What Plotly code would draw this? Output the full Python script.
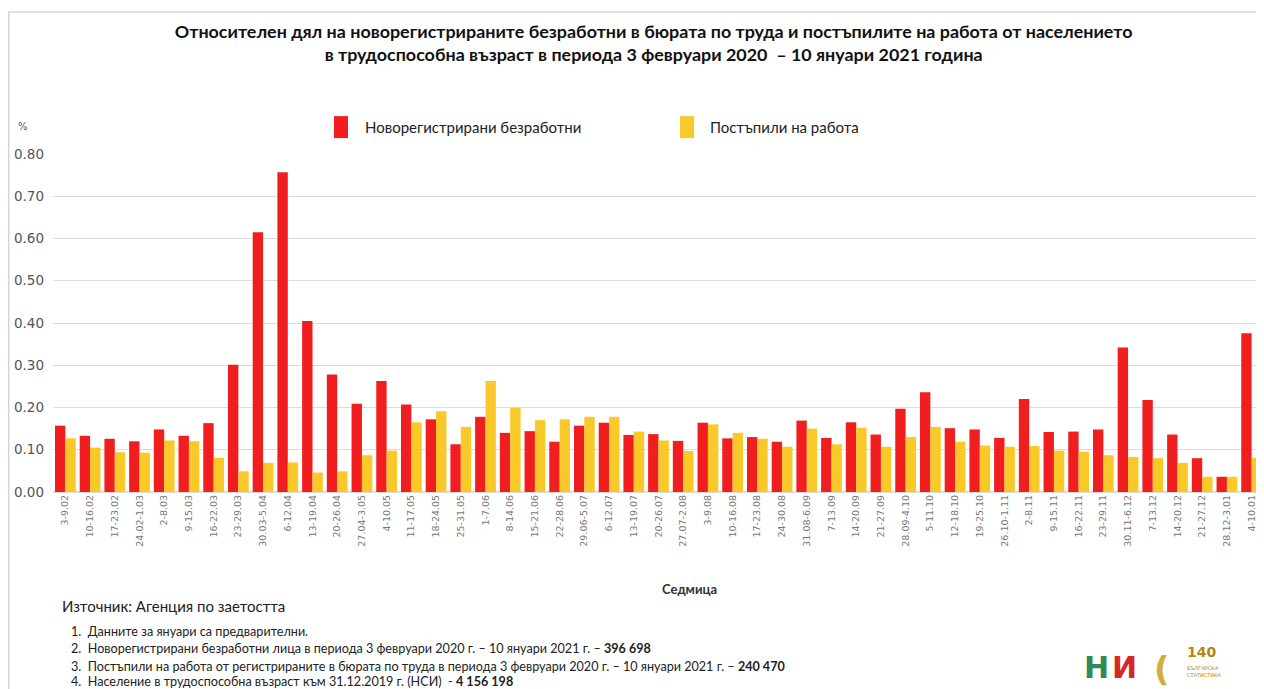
import plotly.graph_objects as go

weeks = ["3-9.02", "10-16.02", "17-23.02", "24.02-1.03", "2-8.03", "9-15.03", "16-22.03",
         "23-29.03", "30.03-5.04", "6-12.04", "13-19.04", "20-26.04", "27.04-3.05", "4-10.05",
         "11-17.05", "18-24.05", "25-31.05", "1-7.06", "8-14.06", "15-21.06", "22-28.06",
         "29.06-5.07", "6-12.07", "13-19.07", "20-26.07", "27.07-2.08", "3-9.08", "10-16.08",
         "17-23.08", "24-30.08", "31.08-6.09", "7-13.09", "14-20.09", "21-27.09", "28.09-4.10",
         "5-11.10", "12-18.10", "19-25.10", "26.10-1.11", "2-8.11", "9-15.11", "16-22.11",
         "23-29.11", "30.11-6.12", "7-13.12", "14-20.12", "21-27.12", "28.12-3.01", "4-10.01"]

new_unemployed = [0.157, 0.133, 0.126, 0.120, 0.148, 0.133, 0.163, 0.301, 0.615, 0.757,
                  0.405, 0.278, 0.209, 0.263, 0.207, 0.172, 0.113, 0.178, 0.140, 0.144,
                  0.119, 0.157, 0.164, 0.135, 0.137, 0.121, 0.164, 0.127, 0.130, 0.119,
                  0.169, 0.128, 0.165, 0.136, 0.197, 0.236, 0.151, 0.148, 0.128, 0.220,
                  0.142, 0.143, 0.148, 0.342, 0.218, 0.136, 0.080, 0.036, 0.376]

started_work = [0.127, 0.105, 0.094, 0.093, 0.122, 0.120, 0.081, 0.049, 0.069, 0.070,
                0.046, 0.049, 0.087, 0.098, 0.165, 0.191, 0.154, 0.263, 0.199, 0.170,
                0.172, 0.178, 0.178, 0.143, 0.122, 0.097, 0.160, 0.140, 0.126, 0.107,
                0.150, 0.113, 0.152, 0.107, 0.130, 0.154, 0.119, 0.110, 0.107, 0.109,
                0.098, 0.095, 0.087, 0.083, 0.080, 0.069, 0.036, 0.036, 0.081]

series_names = ["Новорегистрирани безработни", "Постъпили на работа"]
y_ticks = [0.0, 0.1, 0.2, 0.3, 0.4, 0.5, 0.6, 0.7, 0.8]

RED = "#F01E1E"
YELLOW = "#F9C929"
FONT = "Lato"

fig = go.Figure()
fig.add_trace(go.Bar(x=weeks, y=new_unemployed, name=series_names[0],
                     marker=dict(color=RED, line=dict(width=0))))
fig.add_trace(go.Bar(x=weeks, y=started_work, name=series_names[1],
                     marker=dict(color=YELLOW, line=dict(width=0))))

# The page places the figure at an 8px body margin, so the figure is 8px smaller.
fig.update_layout(
    width=1256, height=681,
    margin=dict(l=45, r=0, t=146, b=197),
    paper_bgcolor="white", plot_bgcolor="white",
    barmode="group", bargap=0.16, bargroupgap=0.0,
    font=dict(family=FONT, color="#222222"),
    title=dict(
        text="<b>Относителен дял на новорегистрираните безработни в бюрата по труда и постъпилите на работа от населението<br>"
             "в трудоспособна възраст в периода 3 февруари 2020  – 10 януари 2021 година</b>",
        x=0.496, xref="paper", xanchor="center", y=0.956, yanchor="top",
        font=dict(family=FONT, size=17.9, color="#111111")),
    showlegend=False,
)

fig.update_xaxes(tickangle=-90, tickfont=dict(family="DejaVu Sans", size=9.5, color="#777777"),
                 showgrid=False, showline=False, ticks="", automargin=False)
fig.update_yaxes(range=[0, 0.8], tickvals=y_ticks, tickformat=".2f",
                 tickfont=dict(family="DejaVu Sans", size=13.5, color="#555555"),
                 showgrid=True, gridcolor="#dcdcdc", gridwidth=1,
                 zeroline=True, zerolinecolor="#dcdcdc", showline=False,
                 ticks="", ticklabelstandoff=8, automargin=False)

# frame lines
fig.add_shape(type="line", xref="paper", yref="paper", x0=-0.037, x1=1.0, y0=1.42, y1=1.42,
              line=dict(color="#c4c4c4", width=1))
fig.add_shape(type="line", xref="paper", yref="paper", x0=-0.0365, x1=-0.0365, y0=-0.6, y1=1.42,
              line=dict(color="#c4c4c4", width=1))

# legend (drawn as layout decoration)
legend_items = [(series_names[0], RED, 0.232, 0.256), (series_names[1], YELLOW, 0.5178, 0.5409)]
for name, color, x0, xt in legend_items:
    fig.add_shape(type="rect", xref="paper", yref="paper", x0=x0, x1=x0 + 0.0116,
                  y0=1.047, y1=1.112, fillcolor=color, line=dict(width=0))
    fig.add_annotation(text=name, xref="paper", yref="paper", x=xt, y=1.080,
                       xanchor="left", yanchor="middle", showarrow=False,
                       font=dict(family=FONT, size=15, color="#222222"))

annotations = [
    dict(text="%", x=-0.025, y=1.080, xanchor="center", yanchor="middle",
         font=dict(family="DejaVu Sans", size=10, color="#555555")),
    dict(text="<b>Седмица</b>", x=0.526, y=-0.287, xanchor="center", yanchor="middle",
         font=dict(family=FONT, size=13, color="#333333")),
    dict(text="Източник: Агенция по заетостта", x=0.006, y=-0.337, xanchor="left", yanchor="middle",
         font=dict(family=FONT, size=15, color="#222222")),
    dict(text="1.  Данните за януари са предварителни.", x=0.013, y=-0.414, xanchor="left", yanchor="middle",
         font=dict(family=FONT, size=12.6, color="#222222")),
    dict(text="2.  Новорегистрирани безработни лица в периода 3 февруари 2020 г. – 10 януари 2021 г. – <b>396 698</b>",
         x=0.013, y=-0.464, xanchor="left", yanchor="middle",
         font=dict(family=FONT, size=12.6, color="#222222")),
    dict(text="3.  Постъпили на работа от регистрираните в бюрата по труда в периода 3 февруари 2020 г. – 10 януари 2021 г. – <b>240 470</b>",
         x=0.013, y=-0.515, xanchor="left", yanchor="middle",
         font=dict(family=FONT, size=12.6, color="#222222")),
    dict(text="4.  Население в трудоспособна възраст към 31.12.2019 г. (НСИ)  - <b>4 156 198</b>",
         x=0.013, y=-0.562, xanchor="left", yanchor="middle",
         font=dict(family=FONT, size=12.6, color="#222222")),
    # logos approximation
    dict(text="<b>Н</b>", x=0.862, y=-0.52, xanchor="center", yanchor="middle",
         font=dict(family="DejaVu Sans", size=30, color="#2e8b57")),
    dict(text="<b>И</b>", x=0.885, y=-0.52, xanchor="center", yanchor="middle",
         font=dict(family="DejaVu Sans", size=30, color="#d62828")),
    dict(text="<b>(</b>", x=0.916, y=-0.525, xanchor="center", yanchor="middle",
         font=dict(family="DejaVu Sans", size=34, color="#d4af37")),
    dict(text="<b>140</b>", x=0.935, y=-0.473, xanchor="left", yanchor="middle",
         font=dict(family="DejaVu Sans", size=14, color="#b8860b")),
    dict(text="БЪЛГАРСКА<br>СТАТИСТИКА", x=0.935, y=-0.53, xanchor="left", yanchor="middle", align="left",
         font=dict(family="DejaVu Sans", size=5, color="#b8860b")),
]
for a in annotations:
    a.setdefault("xref", "paper")
    a.setdefault("yref", "paper")
    a["showarrow"] = False
    fig.add_annotation(**a)

fig.write_html("out.html")
